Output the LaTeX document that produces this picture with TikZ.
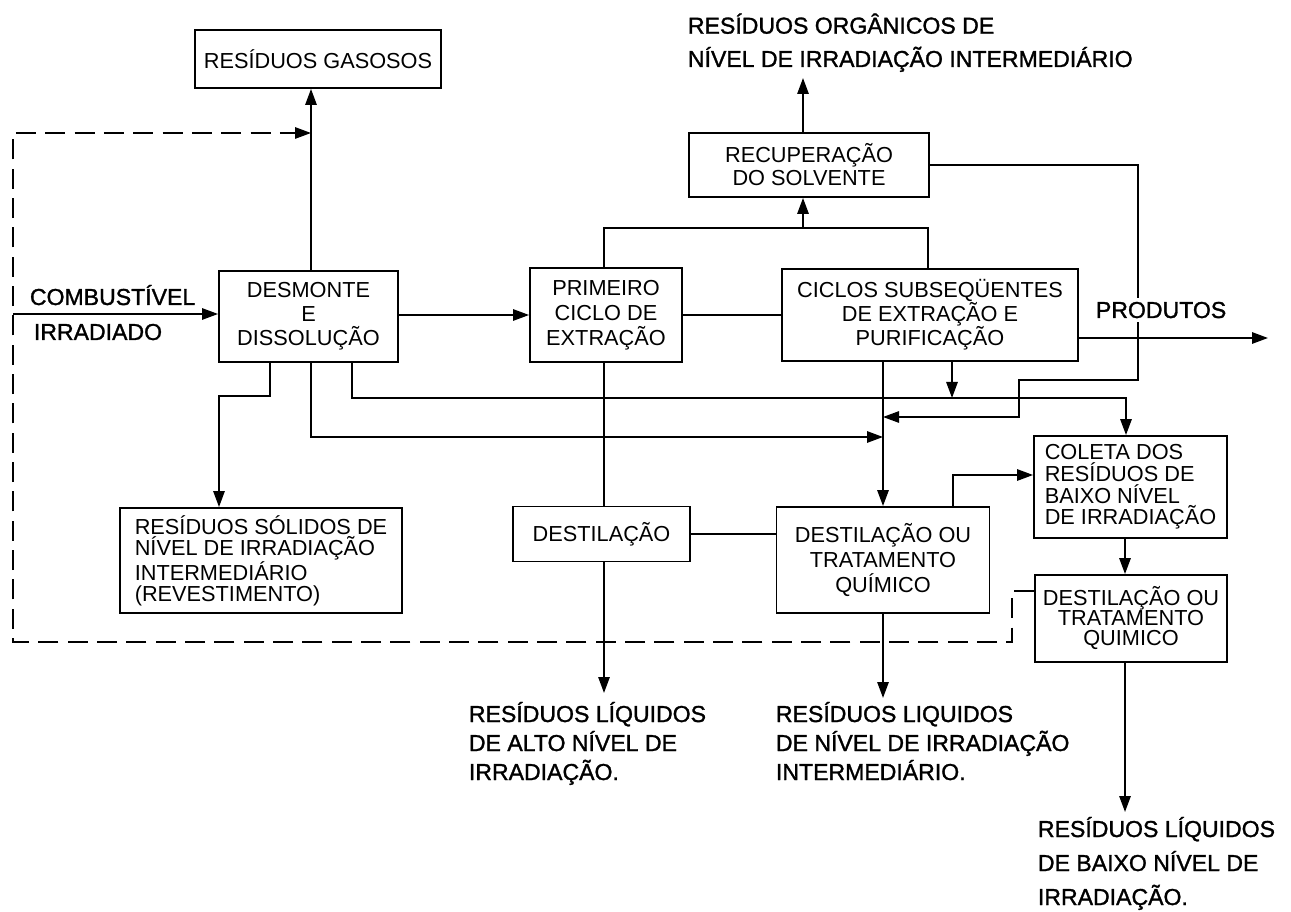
\documentclass[tikz,border=0pt]{standalone}
\usepackage{fontspec}
\setmainfont{Liberation Sans}
% heavier pen for the free labels
\newfontfamily\heavypen[FakeBold=1.3]{Liberation Sans}
\usetikzlibrary{arrows.meta}
% lettering size and line pitch, both in pt
\newcommand\lettering[2]{\fontsize{#1pt}{#2pt}\selectfont}

\begin{document}
\begin{tikzpicture}[x=0.75pt,y=-0.75pt,
  line width=1.4pt,
  >={Triangle[length=12pt,width=8.5pt]},
  box/.style={draw, line width=1.4pt, inner sep=0pt, align=center},
  boxfont/.style={font=\lettering{16.3}{#1}},
  % multi-line free labels are placed by the baseline of their last line
  outtext/.style={inner sep=0pt, align=left, anchor=base west, font=\heavypen\lettering{17.3}{#1}},
  recycle/.style={dash pattern=on 15pt off 7pt}
]
\useasboundingbox (0,0) rectangle (1291,912);

% process boxes
\node[box, boxfont=18, minimum width=184.5pt, minimum height=43.5pt] (gas) at (318,59) {RESÍDUOS GASOSOS};
\node[box, boxfont=18, minimum width=134.25pt, minimum height=68.25pt] (desm) at (308.5,316.5) {DESMONTE\\E\\DISSOLUÇÃO};
\node[box, boxfont=18.75, minimum width=114pt, minimum height=70.5pt] (prim) at (606,315) {PRIMEIRO\\CICLO DE\\EXTRAÇÃO};
\node[box, boxfont=18, minimum width=222pt, minimum height=69pt] (cic) at (930,315) {CICLOS SUBSEQÜENTES\\DE EXTRAÇÃO E\\PURIFICAÇÃO};
\node[box, boxfont=17.25, minimum width=180pt, minimum height=48pt] (rec) at (809,165) {RECUPERAÇÃO\\DO SOLVENTE};
\node[box, boxfont=15.75, align=left, minimum width=211.5pt, minimum height=78.75pt] (sol) at (261,560.5) {RESÍDUOS SÓLIDOS DE\\NÍVEL DE IRRADIAÇÃO\\INTERMEDIÁRIO\\(REVESTIMENTO)};
\node[box, boxfont=18, minimum width=132.75pt, minimum height=41.25pt] (dst) at (601.5,534) {DESTILAÇÃO};
\node[box, boxfont=19, minimum width=159.75pt, minimum height=79.5pt] (dou) at (883,560) {DESTILAÇÃO OU\\TRATAMENTO\\QUÍMICO};
\node[box, boxfont=16.25, align=left, minimum width=144.75pt, minimum height=76.5pt] (col) at (1130.5,487) {COLETA DOS\\RESÍDUOS DE\\BAIXO NÍVEL\\DE IRRADIAÇÃO};
\node[box, boxfont=15, minimum width=144pt, minimum height=65.25pt] (dou2) at (1131,618.5) {DESTILAÇÃO OU\\TRATAMENTO\\QUIMICO};

% free labels
\node[outtext=18] (comb) at (29,305) {COMBUSTÍVEL};
\node[outtext=18] (irr) at (33,340) {IRRADIADO};
\node[outtext=25] (org) at (687,67) {RESÍDUOS ORGÂNICOS DE\\NÍVEL DE IRRADIAÇÃO INTERMEDIÁRIO};
\node[outtext=21.75] (alto) at (468,780) {RESÍDUOS LÍQUIDOS\\DE ALTO NÍVEL DE\\IRRADIAÇÃO.};
\node[outtext=21.75] (inter) at (775,780) {RESÍDUOS LIQUIDOS\\DE NÍVEL DE IRRADIAÇÃO\\INTERMEDIÁRIO.};
\node[outtext=25.5] (baixo) at (1037,905) {RESÍDUOS LÍQUIDOS\\DE BAIXO NÍVEL DE\\IRRADIAÇÃO.};

% loose ends and junctions
\coordinate (feed) at (13,314);
\coordinate (loopA) at (1012,642);
\coordinate (loopB) at (13,642);
\coordinate (loopC) at (13,133);
\coordinate (gasx) at (311,133);
\coordinate (top) at (803,228);
\coordinate (orgtip) at (803,78);
\coordinate (prodtip) at (1268,338);
\coordinate (altotip) at (604,693);
\coordinate (intertip) at (883,698);
\coordinate (baixotip) at (1125,812);

% main line
\draw[->] (feed) -- (feed -| desm.west);
\draw[->] (desm.east |- prim.west) -- (prim.west);
\draw (prim.east) -- (cic.west);
\draw[->] (cic.east |- prodtip) -- (prodtip);

% off-gas and recycle loop
\draw[->] (gasx |- desm.north) -- (gasx |- gas.south);
\draw[recycle,->] (dou2.west |- 0,591) -| (loopA) -- (loopB) -- (loopC) -- (gasx);

% solvent recovery
\draw (604,0 |- prim.north) |- (top) -| (928,0 |- cic.north);
\draw[->] (top) -- (top |- rec.south);
\draw[->] (top |- rec.north) -- (orgtip);
\draw[->] (rec.east) -| (1138,380) -| (1019,417) -- (dou.north |- 0,417);

% liquid waste collection
\draw[->] (dou.north |- cic.south) -- (dou.north);
\draw[->] (952,0 |- cic.south) -- (952,398);
\draw[->] (352,0 |- desm.south) |- (1126,398) -- (1126,0 |- col.north);
\draw[->] (gasx |- desm.south) |- (dou.north |- 0,437);
\draw[->] (270,0 |- desm.south) |- (219,396) -- (219,0 |- sol.north);
\draw (604,0 |- prim.south) -- (604,0 |- dst.north);
\draw[->] (604,0 |- dst.south) -- (altotip);
\draw (dst.east) -- (dou.west |- dst.east);
\draw[->] (dou.south) -- (intertip);
\draw[->] (953,0 |- dou.north) |- (col.west |- 0,475);
\draw[->] (1125,0 |- col.south) -- (1125,0 |- dou2.north);
\draw[->] (1125,0 |- dou2.south) -- (baixotip);

% product label sits over the return line
\node[outtext=18, fill=white, inner ysep=3pt] (prod) at (1095,318) {PRODUTOS};
\end{tikzpicture}
\end{document}
